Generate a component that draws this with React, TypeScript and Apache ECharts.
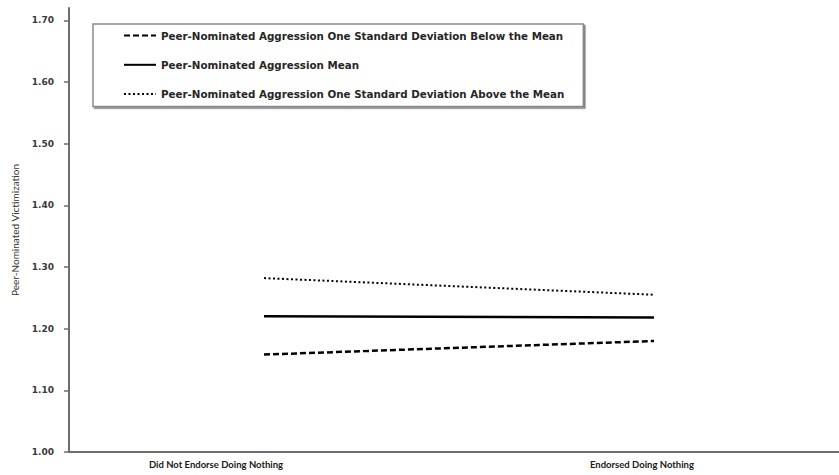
import React, { useEffect, useRef } from "react";
import * as echarts from "echarts";

// Interaction of endorsement with peer-nominated aggression
const categories = ["Did Not Endorse Doing Nothing", "Endorsed Doing Nothing"];
const seriesNames = [
  "Peer-Nominated Aggression One Standard Deviation Below the Mean",
  "Peer-Nominated Aggression Mean",
  "Peer-Nominated Aggression One Standard Deviation Above the Mean",
];
const belowMean = [1.158, 1.18];
const atMean = [1.22, 1.218];
const aboveMean = [1.282, 1.255];
const yTicks = [1.0, 1.1, 1.2, 1.3, 1.4, 1.5, 1.6, 1.7];
const yAxisTitle = "Peer-Nominated Victimization";

// horizontal nudges (px) for the two category labels
const labelShift = [96, 24];

export default function App() {
  const ref = useRef<HTMLDivElement>(null);

  useEffect(() => {
    if (!ref.current) return;
    const chart = echarts.init(ref.current, null, { renderer: "svg" });
    const axisGray = "#6e6e6e";
    const catFont = "Liberation Sans Narrow, Lato, sans-serif";

    chart.setOption({
      animation: false,
      backgroundColor: "#ffffff",
      grid: { left: 69, right: 0, top: 8, bottom: 23 },
      legend: {
        orient: "vertical",
        left: 93,
        top: 24,
        itemWidth: 32,
        itemHeight: 14,
        itemGap: 18,
        padding: [6, 19, 7, 30],
        borderColor: "#8a8a8a",
        borderWidth: 1.5,
        shadowColor: "rgba(0,0,0,0.55)",
        shadowOffsetX: 1.5,
        shadowOffsetY: 1.5,
        shadowBlur: 0,
        backgroundColor: "#ffffff",
        data: seriesNames,
        itemStyle: { opacity: 0 },
        textStyle: {
          fontFamily: "DejaVu Sans",
          fontSize: 10.3,
          fontWeight: "bold",
          color: "#262626",
        },
      },
      xAxis: {
        type: "category",
        data: categories,
        boundaryGap: true,
        axisLine: { lineStyle: { color: axisGray, width: 2 } },
        axisTick: { show: false },
        axisLabel: {
          margin: 7,
          formatter: (v: string, i: number) => `{c${i}|${v}}`,
          rich: {
            c0: {
              fontFamily: catFont,
              fontSize: 9.5,
              fontWeight: "bold",
              color: "#1a1a1a",
              padding: [0, labelShift[0], 0, 0],
            },
            c1: {
              fontFamily: catFont,
              fontSize: 9.5,
              fontWeight: "bold",
              color: "#1a1a1a",
              padding: [0, labelShift[1], 0, 0],
            },
          },
        },
        splitLine: { show: false },
      },
      yAxis: {
        type: "value",
        min: 1.0,
        max: 1.72,
        interval: 0.1,
        name: yAxisTitle,
        nameLocation: "middle",
        nameGap: 49,
        nameTextStyle: {
          fontFamily: catFont,
          fontSize: 10,
          color: "#333333",
        },
        axisLine: { show: true, lineStyle: { color: axisGray, width: 2 } },
        axisTick: {
          show: true,
          inside: false,
          length: 5,
          customValues: yTicks,
          lineStyle: { color: axisGray, width: 1.5 },
        },
        axisLabel: {
          customValues: yTicks,
          margin: 15,
          formatter: (v: number) => v.toFixed(2),
          fontFamily: "DejaVu Sans",
          fontSize: 9,
          fontWeight: "bold",
          color: "#3a3a3a",
        },
        splitLine: { show: false },
      },
      series: [
        {
          name: seriesNames[0],
          type: "line",
          data: belowMean,
          symbol: "none",
          lineStyle: { color: "#000", width: 2.5, type: [6, 3] },
          itemStyle: { color: "#000" },
        },
        {
          name: seriesNames[1],
          type: "line",
          data: atMean,
          symbol: "none",
          lineStyle: { color: "#000", width: 2.5, type: "solid" },
          itemStyle: { color: "#000" },
        },
        {
          name: seriesNames[2],
          type: "line",
          data: aboveMean,
          symbol: "none",
          lineStyle: { color: "#000", width: 2, type: [2, 2.5] },
          itemStyle: { color: "#000" },
        },
      ],
    });

    return () => chart.dispose();
  }, []);

  // the plot runs a little past the right edge of the page
  return (
    <div
      ref={ref}
      style={{ position: "fixed", left: 0, top: 0, width: 849, height: 475 }}
    />
  );
}
